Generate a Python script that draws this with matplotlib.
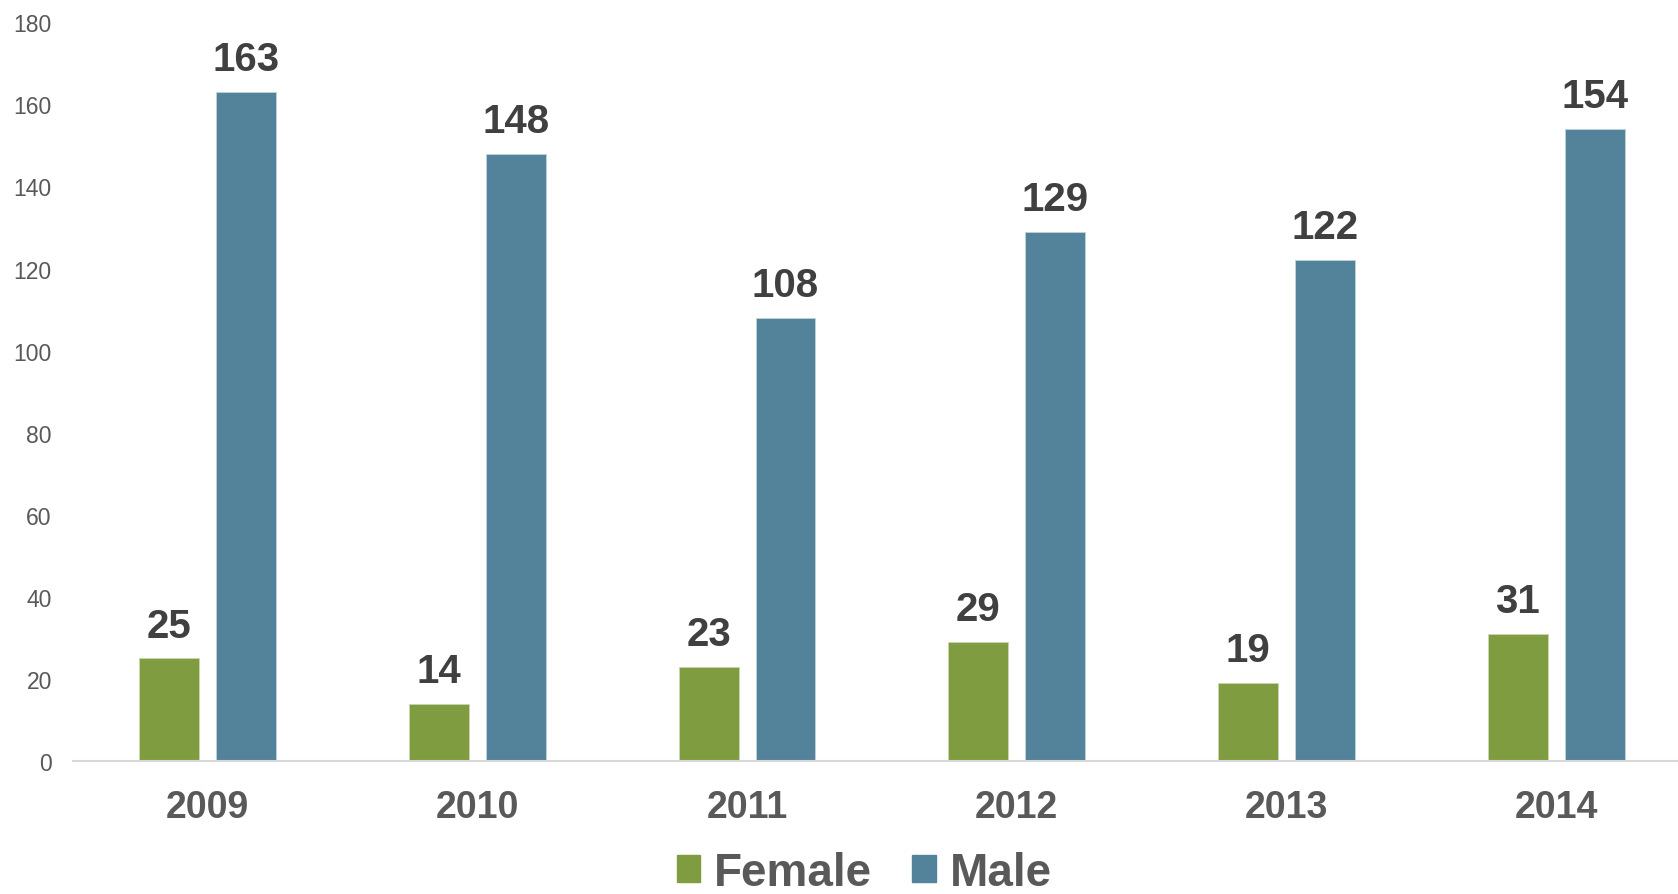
import numpy as np
import matplotlib
matplotlib.use("Agg")
import matplotlib.pyplot as plt
from matplotlib.patches import Patch

years = ["2009", "2010", "2011", "2012", "2013", "2014"]
female = [25, 14, 23, 29, 19, 31]
male = [163, 148, 108, 129, 122, 154]

green = "#7F9D40"
blue = "#52839A"
dark = "#404040"
grey = "#595959"

plt.rcParams['font.family'] = ['Liberation Sans', 'DejaVu Sans']

fig = plt.figure(figsize=(16.78, 8.95), dpi=100)
# axis runs a little past the right edge of the image, like the original
ax = fig.add_axes([0.0433, 0.1486, 0.9645, 0.8254])

x = np.arange(len(years))
w = 0.2224
off = 0.1427
bars_f = ax.bar(x - off, female, w, color=green, edgecolor="#C9D6B0", linewidth=0.6)
bars_m = ax.bar(x + off, male, w, color=blue, edgecolor="#C3D3DB", linewidth=0.6)

# value labels on top of every bar
for bars in (bars_f, bars_m):
    for b in bars:
        ax.annotate(f"{int(b.get_height())}",
                    (b.get_x() + b.get_width() / 2, b.get_height()),
                    xytext=(0, 10), textcoords="offset points",
                    ha="center", va="bottom", fontsize=29,
                    fontweight="bold", color=dark)

ax.set_xlim(-0.5, len(years) - 0.5)
ax.set_ylim(0, 180)
ax.set_yticks(np.arange(0, 181, 20))
ax.set_xticks(x)
ax.set_xticklabels(years, fontsize=27, fontweight="bold", color=grey)
ax.tick_params(axis="y", length=0, pad=15, labelsize=16.5, labelcolor=grey)
ax.tick_params(axis="x", length=0, pad=20)

for s in ("top", "right", "left"):
    ax.spines[s].set_visible(False)
ax.spines["bottom"].set_color("#D9D9D9")
ax.spines["bottom"].set_linewidth(1.5)

handles = [Patch(color=green, label="Female"), Patch(color=blue, label="Male")]
leg = fig.legend(handles=handles, loc="center", bbox_to_anchor=(0.515, 0.024),
                 ncol=2, frameon=False,
                 handlelength=0.52, handleheight=0.52,
                 handletextpad=0.3, columnspacing=0.87,
                 prop={"weight": "bold", "size": 33})
for t in leg.get_texts():
    t.set_color(grey)

fig.savefig("out.png", dpi=100)
